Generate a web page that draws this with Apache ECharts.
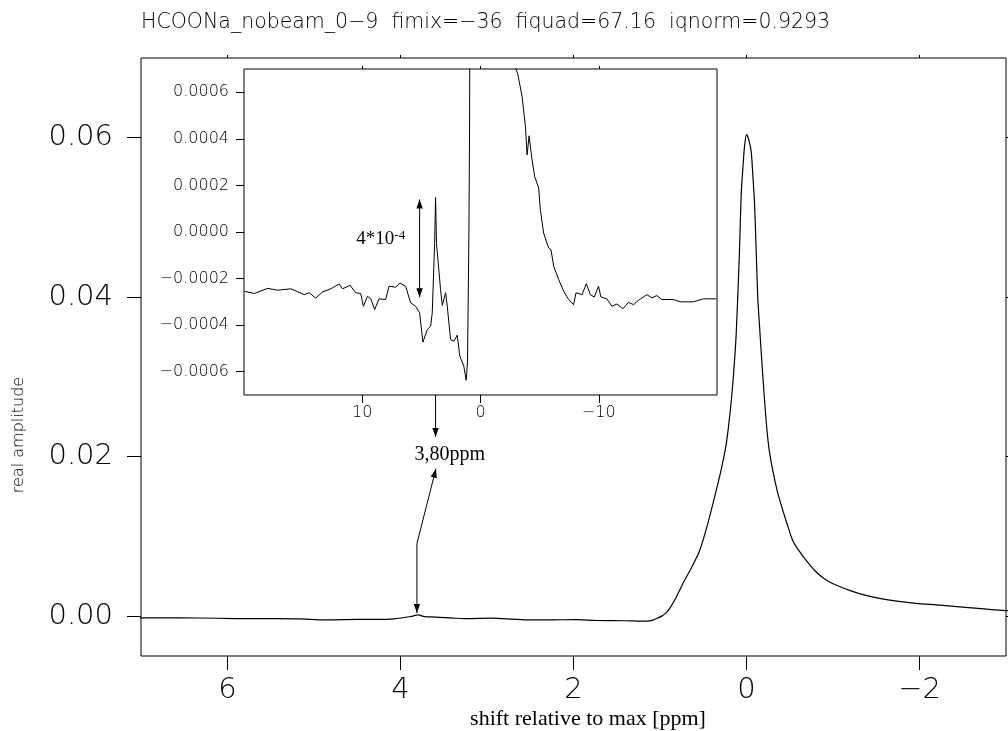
<!DOCTYPE html>
<html>
<head>
<meta charset="utf-8">
<title>HCOONa spectrum</title>
<script src="https://cdn.jsdelivr.net/npm/echarts@6/dist/echarts.min.js"></script>
<style>
  html, body { margin: 0; padding: 0; background: #fff; }
  #main { width: 1008px; height: 731px; }
</style>
</head>
<body>
<div id="main"></div>
<script>
// spectrum: chemical shift [ppm] and real amplitude
const ppm = [
  19.95, 19.13, 18.0, 17.16, 16.03, 14.91, 14.49, 13.92, 13.36, 12.66,
  11.95, 11.67, 11.03, 10.55, 10.13, 9.9, 9.56, 9.28, 8.95, 8.58,
  8.02, 7.74, 7.17, 6.81, 6.33, 5.91, 5.49, 5.15, 4.87, 4.5,
  4.22, 4.08, 3.88, 3.8, 3.72, 3.6, 3.38, 3.23, 2.95, 2.81,
  2.53, 2.25, 1.97, 1.75, 1.41, 1.21, 1.1, 1.04, 0.98, 0.93,
  0.88, 0.82, 0.735, 0.64, 0.542, 0.45, 0.349, 0.29, 0.234, 0.19,
  0.158, 0.119, 0.081, 0.061, 0.04, 0.023, 0.0, -0.025, -0.054, -0.075,
  -0.092, -0.112, -0.13, -0.15, -0.188, -0.227, -0.26, -0.303, -0.36, -0.419,
  -0.48, -0.534, -0.6, -0.689, -0.8, -0.9, -0.995, -1.2, -1.38, -1.6,
  -1.96, -2.2, -2.53, -2.75, -2.99, -3.15, -3.52, -3.8, -3.94, -4.11,
  -4.36, -4.58, -4.92, -5.06, -5.34, -5.76, -5.96, -6.19, -6.61, -7.03,
  -7.45, -7.87, -8.08, -8.59, -8.95, -9.28, -9.62, -9.98, -10.18, -10.69,
  -11.11, -11.54, -12.04, -12.52, -12.94, -13.36, -14.07, -14.49, -14.91, -15.33,
  -16.32, -16.88, -18.0, -18.85, -19.92
];
const amp = [
  -0.000255, -0.000264, -0.000242, -0.00025, -0.000244, -0.000269, -0.000261, -0.000284, -0.000257, -0.000244,
  -0.000223, -0.000244, -0.000229, -0.000261, -0.000264, -0.000319, -0.000276, -0.000287, -0.000333, -0.000287,
  -0.00029, -0.000233, -0.000237, -0.000219, -0.000233, -0.000304, -0.000319, -0.000347, -0.000473, -0.000419,
  -0.000405, -0.000347, -0.00005, 0.000148, -0.00005, -0.000119, -0.000247, -0.000315, -0.000261, -0.000319,
  -0.000462, -0.000469, -0.000443, -0.000533, -0.000576, -0.000637, -0.00056, -0.0003, 0.0, 0.0004,
  0.0011, 0.0022, 0.0041, 0.006, 0.0082, 0.0115, 0.0158, 0.0185, 0.0216, 0.0255,
  0.0292, 0.0354, 0.0459, 0.053, 0.0565, 0.0589, 0.0604, 0.0598, 0.0583, 0.055,
  0.052, 0.0458, 0.04, 0.0365, 0.0302, 0.0245, 0.021, 0.0183, 0.0155, 0.0133,
  0.0112, 0.0095, 0.0083, 0.007, 0.0056, 0.0047, 0.0041, 0.0032, 0.0026, 0.0021,
  0.0016, 0.0014, 0.0011, 0.0009, 0.0007, 0.00068, 0.000581, 0.000453, 0.000331, 0.000413,
  0.00031, 0.000238, 0.000189, 0.0000956, -0.0000043, -0.0000686, -0.0000759, -0.000147, -0.000204, -0.000254,
  -0.00029, -0.000312, -0.000261, -0.000269, -0.000222, -0.000269, -0.000279, -0.000233, -0.000279, -0.000287,
  -0.000319, -0.000309, -0.00033, -0.000302, -0.000312, -0.000293, -0.000269, -0.000283, -0.000273, -0.00029,
  -0.00029, -0.0003, -0.0003, -0.000287, -0.000287
];

// tick positions
const mainXTicks = [-2, 0, 2, 4, 6];
const mainYTicks = [0, 0.02, 0.04, 0.06];
const insetXTicks = [-10, 0, 10];
const insetYTicks = [-0.0006, -0.0004, -0.0002, 0, 0.0002, 0.0004, 0.0006];

const titleText = 'HCOONa_nobeam_0\u22129  fimix=\u221236  fiquad=67.16  iqnorm=0.9293';

const points = ppm.map((x, i) => [x, amp[i]]);

const minus = s => s.replace('-', '\u2212');
const thin = { fontFamily: 'DejaVu Sans', fontWeight: 200, color: '#000' };

function axisPair(ticks, len, labels, fmt, margin, size) {
  return {
    axisLine: { show: false, onZero: false },
    splitLine: { show: false },
    axisTick: { show: true, length: len, customValues: ticks, lineStyle: { color: '#000', width: 1 } },
    axisLabel: labels ? Object.assign({ show: true, customValues: ticks, formatter: fmt, margin: margin, fontSize: size }, thin) : { show: false }
  };
}

const option = {
  animation: false,
  backgroundColor: '#fff',
  grid: [
    { left: 141, top: 58, width: 865, height: 598, show: true, borderColor: '#000', borderWidth: 1 },
    { left: 244, top: 69, width: 473, height: 326, show: true, borderColor: '#000', borderWidth: 1, backgroundColor: '#fff', z: 5 }
  ],
  xAxis: [
    Object.assign({ type: 'value', gridIndex: 0, min: -3, max: 7, inverse: true, position: 'bottom' },
      axisPair(mainXTicks, 14, true, v => minus(String(v)), 20, 29)),
    Object.assign({ type: 'value', gridIndex: 0, min: -3, max: 7, inverse: true, position: 'top' },
      axisPair(mainXTicks, 3, false)),
    Object.assign({ type: 'value', gridIndex: 1, min: -20, max: 20, inverse: true, position: 'bottom', z: 6 },
      axisPair(insetXTicks, 8, true, v => minus(String(v)), 10, 16)),
    Object.assign({ type: 'value', gridIndex: 1, min: -20, max: 20, inverse: true, position: 'top', z: 6 },
      axisPair(insetXTicks, 3, false))
  ],
  yAxis: [
    Object.assign({ type: 'value', gridIndex: 0, min: -0.005, max: 0.07, position: 'left' },
      axisPair(mainYTicks, 14, true, v => v.toFixed(2), 28, 29)),
    Object.assign({ type: 'value', gridIndex: 0, min: -0.005, max: 0.07, position: 'right' },
      axisPair(mainYTicks, 3, false)),
    Object.assign({ type: 'value', gridIndex: 1, min: -0.0007, max: 0.0007, position: 'left', z: 6 },
      axisPair(insetYTicks, 8, true, v => minus(v.toFixed(4)), 15, 16))
  ],
  series: [
    {
      name: 'main', type: 'line', xAxisIndex: 0, yAxisIndex: 0, data: points,
      showSymbol: false, clip: true, smooth: 0.25,
      lineStyle: { color: '#000', width: 1.2 }, z: 2
    },
    {
      name: 'inset', type: 'line', xAxisIndex: 2, yAxisIndex: 2, data: points,
      showSymbol: false, clip: true, lineStyle: { color: '#000', width: 1 }, z: 7
    }
  ]
};

const chart = echarts.init(document.getElementById('main'));
chart.setOption(option);

// annotations, anchored in data coordinates
const mainKink = [3.81, 0.0091], mainDownTip = [3.81, 0.0004], mainUpTip = [3.59, 0.0185];
const insetFrom = [3.8, -0.0007], insetTip = [3.8, -0.00088];
const spanTop = [5.15, 0.00014], spanBottom = [5.15, -0.00028];
const spanLabelAt = [10.5, -0.00003];
const peakLabelAt = [3.43, 0.0202];

const toMain = p => chart.convertToPixel({ gridIndex: 0 }, p);
const toInset = p => chart.convertToPixel({ gridIndex: 1 }, p);

function seg(a, b) {
  return { type: 'line', shape: { x1: a[0], y1: a[1], x2: b[0], y2: b[1] }, style: { stroke: '#000', lineWidth: 1 }, z: 20 };
}
function head(tip, from) {
  const dx = tip[0] - from[0], dy = tip[1] - from[1];
  const d = Math.hypot(dx, dy), ux = dx / d, uy = dy / d;
  const len = 9, half = 3.2;
  const bx = tip[0] - ux * len, by = tip[1] - uy * len;
  return {
    type: 'polygon', z: 20,
    shape: { points: [tip, [bx - uy * half, by + ux * half], [bx + uy * half, by - ux * half]] },
    style: { fill: '#000' }
  };
}

const k = toMain(mainKink), dTip = toMain(mainDownTip), uTip = toMain(mainUpTip);
const iFrom = toInset(insetFrom), iTip = toInset(insetTip);
const sTop = toInset(spanTop), sBot = toInset(spanBottom);
const sLab = toInset(spanLabelAt), pLab = toMain(peakLabelAt);

chart.setOption({
  graphic: [
    seg(k, dTip), head(dTip, k),
    seg(k, uTip), head(uTip, k),
    seg(iFrom, iTip), head(iTip, iFrom),
    seg(sTop, sBot), head(sTop, sBot), head(sBot, sTop),
    {
      type: 'text', z: 20, x: sLab[0], y: sLab[1],
      style: {
        text: '{a|4*10}{b|-4}', verticalAlign: 'middle', align: 'left',
        rich: {
          a: { fontFamily: 'Liberation Serif', fontSize: 19, color: '#000' },
          b: { fontFamily: 'Liberation Serif', fontSize: 13, color: '#000', verticalAlign: 'top' }
        }
      }
    },
    {
      type: 'text', z: 20, x: pLab[0], y: pLab[1],
      style: { text: '3,80ppm', fontFamily: 'Liberation Serif', fontSize: 20, fill: '#000', align: 'center', verticalAlign: 'middle' }
    },
    {
      type: 'text', z: 20, x: 141, y: 23,
      style: { text: titleText, fontSize: 20.5, fill: '#000', align: 'left', verticalAlign: 'middle', fontFamily: 'DejaVu Sans', fontWeight: 200 }
    },
    {
      type: 'text', z: 20, x: 588, y: 719,
      style: { text: 'shift relative to max [ppm]', fontFamily: 'Liberation Serif', fontSize: 22, fill: '#000', align: 'center', verticalAlign: 'middle' }
    },
    {
      type: 'text', z: 20, x: 19, y: 435, rotation: Math.PI / 2,
      style: { text: 'real amplitude', fontFamily: 'DejaVu Sans', fontWeight: 200, fontSize: 16, fill: '#000', align: 'center', verticalAlign: 'middle' }
    }
  ]
});
</script>
</body>
</html>
